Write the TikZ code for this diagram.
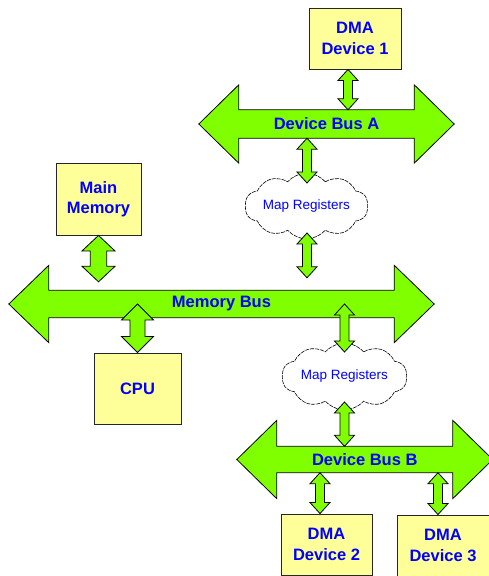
\documentclass[tikz,border=0pt]{standalone}
\usepackage{fontspec}
\setmainfont{Liberation Sans}
\usetikzlibrary{shapes.symbols,calc,backgrounds}
\definecolor{busgreen}{RGB}{128,255,0}
\definecolor{boxyellow}{RGB}{255,255,153}
\definecolor{txtblue}{RGB}{0,0,255}
\newcommand\drawbusshape[3]{%
  \begin{scope}[on background layer]
  \draw[busfill] (#1.north west) -- ([yshift=#2]#1.north west) -- ([xshift=-#3]#1.west)
    -- ([yshift=-#2]#1.south west) -- (#1.south west) -- (#1.south east)
    -- ([yshift=-#2]#1.south east) -- ([xshift=#3]#1.east) -- ([yshift=#2]#1.north east)
    -- (#1.north east) -- cycle;
  \end{scope}}
\begin{document}
\begin{tikzpicture}[x=1pt,y=1pt,
 box/.style={draw=black!85, line width=0.9pt, fill=boxyellow, inner sep=0pt, align=center,
   text=txtblue, font=\fontsize{16.5}{20.5}\selectfont\bfseries},
 bus/.style={inner sep=0pt, text=txtblue, font=\fontsize{16.5}{20}\selectfont\bfseries},
 busfill/.style={draw=black, line width=0.8pt, fill=busgreen, line join=miter},
 maps/.style={cloud, cloud puffs=10, cloud puff arc=100, cloud ignores aspect, draw=black,
   line width=0.6pt, dash pattern=on 4pt off 1pt, fill=white, inner sep=0pt,
   text=txtblue, font=\fontsize{13.5}{15}\selectfont},
 barr/.style n args={3}{draw=black, line width=0.8pt, fill=busgreen, line join=miter,
   to path={let \p1=(\tikztostart), \p2=(\tikztotarget) in
   (\x1,\y1) -- (\x1+#1,\y1-#3) -- (\x1+#2,\y1-#3) -- (\x1+#2,\y2+#3) -- (\x1+#1,\y2+#3)
   -- (\x1,\y2) -- (\x1-#1,\y2+#3) -- (\x1-#2,\y2+#3) -- (\x1-#2,\y1-#3) -- (\x1-#1,\y1-#3) -- cycle}},
 smallarr/.style={barr={10pt}{4.5pt}{11pt}},
 bigarr/.style={barr={16.5pt}{8.2pt}{15.5pt}},
 bigarrb/.style={barr={16pt}{7.5pt}{16pt}}
]
\useasboundingbox (0,0) rectangle (488,576);

% boxes
\node[box, minimum width=92pt, minimum height=61pt] (dma1) at (355,537.5) {DMA\\Device 1};
\node[box, minimum width=85pt, minimum height=72pt] (mainmem) at (98.5,377) {Main\\Memory};
\node[box, minimum width=87pt, minimum height=71pt] (cpu) at (137.5,187.5) {CPU};
\node[box, minimum width=91pt, minimum height=61pt] (dma2) at (326.5,31.5) {DMA\\Device 2};
\node[box, minimum width=92pt, minimum height=61pt] (dma3) at (443,30.5) {DMA\\Device 3};

% buses
\node[bus, minimum width=175pt, minimum height=28pt] (busA) at (326.5,452) {Device Bus A};
\node[bus, minimum width=345pt, minimum height=27pt] (mem) at (221.5,272) {Memory Bus};
\node[bus, minimum width=175.5pt, minimum height=26pt] (busB) at (364.75,116.5) {Device Bus B};
\drawbusshape{busA}{25pt}{40pt}
\drawbusshape{mem}{25pt}{40pt}
\drawbusshape{busB}{26pt}{40pt}

% clouds
\node[maps, minimum width=123pt, minimum height=66pt] (cloud1) at (306.5,370) {Map Registers};
\node[maps, minimum width=125pt, minimum height=67pt] (cloud2) at (344.5,199.5) {Map Registers};

% connectors
\draw[smallarr] ([xshift=-7pt]dma1.south) to (busA.north);
\draw[smallarr] ([xshift=-19.5pt]busA.south) to ([yshift=23pt]cloud1.center);
\draw[smallarr] ([xshift=0.5pt,yshift=-27pt]cloud1.center) to ([yshift=12.5pt]mem.north);
\draw[bigarr] (mainmem.south) to ([yshift=8.5pt]mem.north);
\draw[bigarrb] (mem.center -| cpu.north) to (cpu.north);
\draw[smallarr] (mem.center -| cloud2.center) to ([yshift=24.5pt]cloud2.center);
\draw[smallarr] ([yshift=-25.5pt]cloud2.center) to (busB.north);
\draw[smallarr] ([xshift=-44.75pt]busB.south) to (dma2.north);
\draw[smallarr] ([xshift=73.25pt]busB.south) to (dma3.north);
\end{tikzpicture}
\end{document}
